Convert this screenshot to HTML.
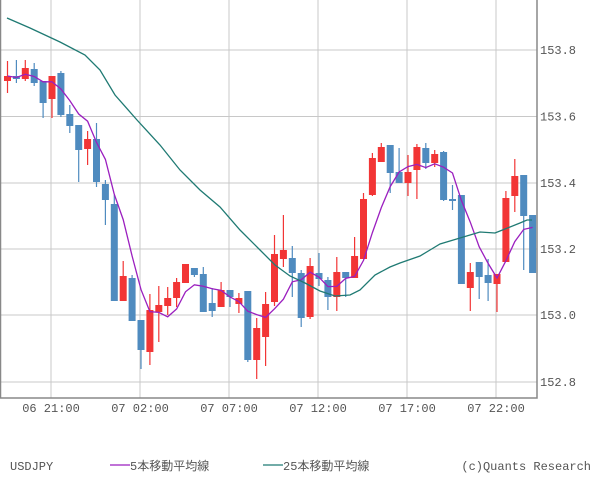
<!DOCTYPE html>
<html><head><meta charset="utf-8"><style>
body{margin:0;background:#fff;width:600px;height:475px;overflow:hidden}
svg text{font-family:"Liberation Mono","Noto Sans CJK JP",monospace;font-size:12px;fill:#555}
</style></head><body>
<svg id="s" width="600" height="475" xmlns="http://www.w3.org/2000/svg"></svg>
<script>
const C=[
[76,81,61,93,'r'],[76,79,60,83,'b'],[68,79,60,81,'r'],[69,83,63,86,'b'],[81,103,81,118,'b'],
[76,99,76,118,'r'],[73,115,71,117,'b'],[114,126,105,133,'b'],[125,150,125,182,'b'],[139,149,131,165,'r'],
[139,182,123,187,'b'],[184,200,180,225,'b'],[204,301,195,301,'b'],[276,301,261,301,'r'],[278,321,275,321,'b'],
[320,350,320,369,'b'],[310,352,294,365,'r'],[305,312,286,342,'r'],[298,306,287,315,'r'],[282,298,278,307,'r'],
[264,283,264,283,'r'],[268,275,268,277,'b'],[274,312,267,312,'b'],[303,311,288,317,'b'],[290,307,282,307,'r'],
[290,297,290,307,'b'],[298,304,293,313,'r'],[291,360,291,362,'b'],[328,360,318,379,'r'],[304,337,292,366,'r'],
[254,302,235,306,'r'],[250,259,215,267,'r'],[258,273,246,297,'b'],[273,318,270,327,'b'],[266,317,258,319,'r'],
[273,279,253,286,'b'],[280,297,277,310,'b'],[272,297,257,311,'r'],[272,278,272,297,'b'],[256,278,237,278,'r'],
[199,259,193,259,'r'],[158,195,153,196,'r'],[147,162,143,162,'r'],[145,173,145,193,'b'],[172,183,148,183,'b'],
[172,183,155,196,'r'],[147,170,144,199,'r'],[148,163,143,169,'b'],[154,163,150,167,'r'],[152,200,151,201,'b'],
[199,201,185,210,'b'],[195,284,195,284,'b'],[272,288,263,311,'r'],[262,277,262,299,'b'],[275,283,259,301,'b'],
[274,284,274,312,'r'],[198,262,191,262,'r'],[176,196,159,212,'r'],[175,216,175,270,'b'],[215,273,215,273,'b']];
let h='';
const X=i=>7.5+i*8.9;
// grid
[50,116.5,183,249,315,382].forEach(y=>h+=`<line x1="0" x2="537" y1="${y}" y2="${y}" stroke="#c8c8c8" stroke-width="1"/>`);
[51,140,229,318,407,496].forEach(x=>h+=`<line x1="${x}" x2="${x}" y1="0" y2="398" stroke="#c8c8c8" stroke-width="1"/>`);
// candles
C.forEach((c,i)=>{const x=X(i),col=c[4]=='r'?'#f23535':'#4f8bbf';
const top=Math.min(c[0],c[1]),bot=Math.max(c[0],c[1]);
h+=`<line x1="${x}" x2="${x}" y1="${c[2]}" y2="${c[3]}" stroke="${col}" stroke-width="1.2"/>`;
h+=`<rect x="${x-3.5}" y="${top}" width="7" height="${Math.max(bot-top,1.5)}" fill="${col}"/>`;});
// closes
const cl=C.map(c=>c[4]=='r'?c[0]:c[1]);
let p=[];cl.forEach((v,i)=>{const w=cl.slice(Math.max(0,i-4),i+1);p.push(X(i)+','+(w.reduce((a,b)=>a+b)/w.length).toFixed(1));});
h+=`<polyline points="${p.join(' ')}" fill="none" stroke="#9b1fbf" stroke-width="1.3"/>`;
const m=[[7,18],[30,28],[60,42],[85,55],[100,70],[115,95],[137,120],[160,145],[180,170],[200,190],[220,207],[240,230],[260,250],[275,265],[290,276],[305,283],[320,291],[335,296],[350,295],[360,290],[375,275],[390,267],[400,263],[420,256],[430,250],[440,244],[460,238],[480,232],[495,233],[505,229],[520,223],[527,220],[532,220]];
h+=`<polyline points="${m.join(' ')}" fill="none" stroke="#1f7a73" stroke-width="1.3"/>`;
h+=`<rect x="0.5" y="-2" width="536.5" height="400" fill="none" stroke="#888" stroke-width="1.5"/>`;
[['153.8',50],['153.6',116.5],['153.4',183],['153.2',249],['153.0',315],['152.8',382]].forEach(([t,y])=>h+=`<text x="540" y="${y+4}">${t}</text>`);
[['06 21:00',51],['07 02:00',140],['07 07:00',229],['07 12:00',318],['07 17:00',407],['07 22:00',496]].forEach(([t,x])=>h+=`<text x="${x}" y="412" text-anchor="middle">${t}</text>`);
h+=`<text x="10" y="470">USDJPY</text>`;
h+=`<line x1="110" x2="130" y1="465" y2="465" stroke="#9b1fbf" stroke-width="1.3"/><text x="130" y="470">5本移動平均線</text>`;
h+=`<line x1="263" x2="283" y1="465" y2="465" stroke="#1f7a73" stroke-width="1.3"/><text x="283" y="470">25本移動平均線</text>`;
h+=`<text x="591" y="470" text-anchor="end">(c)Quants Research</text>`;
document.getElementById('s').innerHTML=h;
</script>
</body></html>
